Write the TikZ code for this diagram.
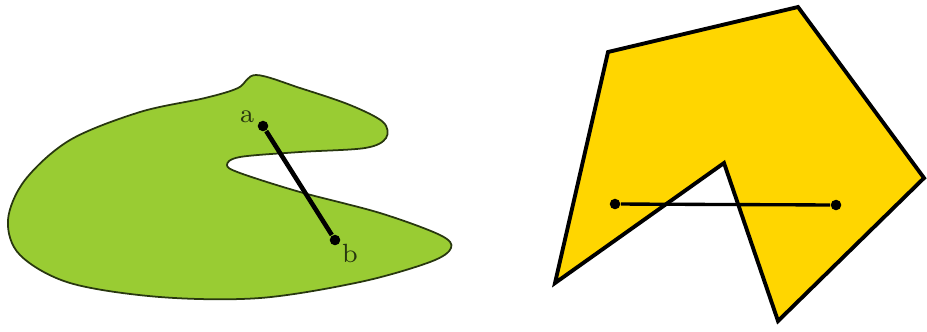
\documentclass[tikz,border=0pt]{standalone}
\usepackage{tikz}

\definecolor{leafgreen}{RGB}{153,204,51}
\definecolor{edgegreen}{RGB}{40,55,15}
\definecolor{gold}{RGB}{255,214,0}

\tikzset{
  endpt/.style={circle, fill=black, inner sep=0pt, minimum size=3pt},
  lbl/.style={text=edgegreen, font=\fontsize{7.5}{8}\selectfont, inner sep=0pt},
}

\begin{document}
\begin{tikzpicture}[x=0.1mm, y=-0.1mm]
    \useasboundingbox (0,0) rectangle (927,331);
    % non-convex blob
    \draw[fill=leafgreen, draw=edgegreen, line width=0.5pt]
      plot[smooth cycle, tension=0.55] coordinates {
        (256,75) (300,88) (350,105) (383,122) (386,138) (365,148)
        (300,152) (240,157) (227,165) (240,173) (300,192) (380,213)
        (440,235) (451,248) (430,262) (360,282) (260,298) (160,297)
        (70,283) (20,255) (8,220) (25,180) (70,140) (140,112)
        (205,98) (238,88)};
    % non-convex polygon
    \draw[fill=gold, line width=1.1pt, line join=miter]
      (608,52) -- (798,7) -- (924,178) -- (778,321) -- (724,163) -- (555,283) -- cycle;
    \node[endpt] (a) at (263,126) {};
    \node[endpt] (b) at (335,240) {};
    \node[lbl] (la) at (247,117) {a};
    \node[lbl] (lb) at (350,253) {b};
    \draw[line width=1.3pt] (a)--(b);
    \node[endpt] (p) at (615,204) {};
    \node[endpt] (q) at (836,205) {};
    \draw[line width=0.95pt] (p)--(q);
\end{tikzpicture}
\end{document}
